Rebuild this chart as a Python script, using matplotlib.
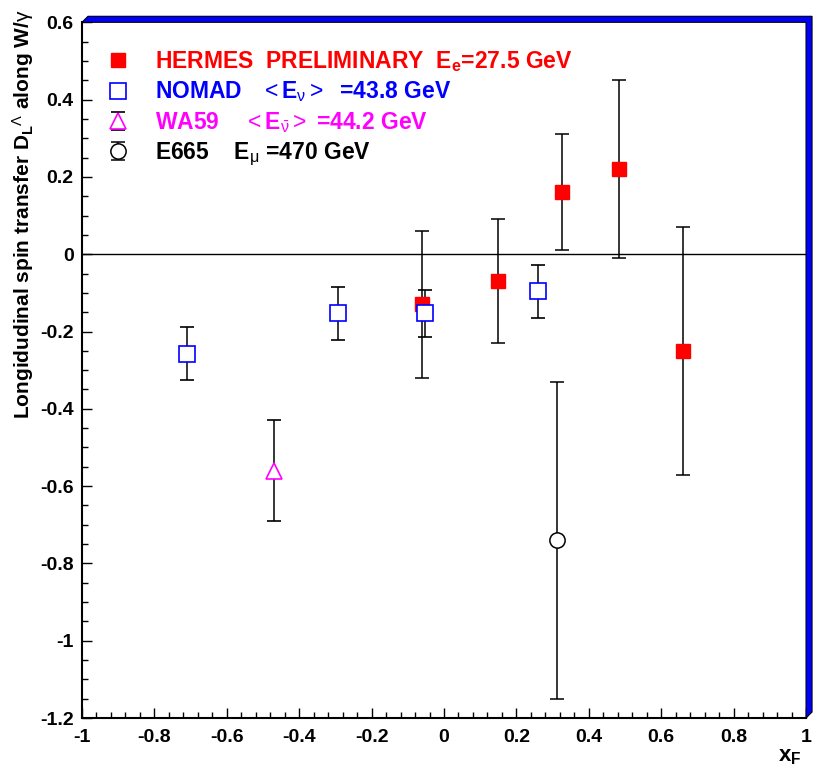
import numpy as np
import matplotlib
matplotlib.use("Agg")
import matplotlib.pyplot as plt
from matplotlib.patches import Polygon
from matplotlib.lines import Line2D
from matplotlib.legend_handler import HandlerErrorbar
from matplotlib.ticker import MultipleLocator, FuncFormatter

plt.rcParams['font.family'] = ['Liberation Sans', 'DejaVu Sans']
plt.rcParams['axes.unicode_minus'] = False
plt.rcParams['mathtext.fontset'] = 'custom'
plt.rcParams['mathtext.rm'] = 'Liberation Sans'
plt.rcParams['mathtext.bf'] = 'Liberation Sans:bold'
plt.rcParams['mathtext.it'] = 'Liberation Sans:italic'

# ---------------------------------
# data: D_L^Lambda vs x_F
hermes_x = [-0.06, 0.15, 0.326, 0.483, 0.66]
hermes_y = [-0.13, -0.07, 0.16, 0.22, -0.25]
hermes_err = [0.19, 0.16, 0.15, 0.23, 0.32]

nomad_x = [-0.71, -0.293, -0.052, 0.26]
nomad_y = [-0.257, -0.153, -0.153, -0.096]
nomad_err = [0.068, 0.068, 0.06, 0.068]

wa59_x = [-0.47]
wa59_y = [-0.56]
wa59_err = [0.13]

e665_x = [0.312]
e665_y = [-0.74]
e665_err = [0.41]

labels = [r"HERMES  PRELIMINARY  E$_{\mathbf{e}}$=27.5 GeV",
          r"NOMAD   $<$E$_{\mathrm{\nu}}$$>$  =43.8 GeV",
          r"WA59    $<$E$_{\bar{\mathrm{\nu}}}$$>$ =44.2 GeV",
          r"E665    E$_{\mathrm{\mu}}$ =470 GeV"]
colors = ["#ff0000", "#0000ff", "#ff00ff", "#000000"]
# ---------------------------------

fig = plt.figure(figsize=(8.15, 7.69), dpi=100)
ax = fig.add_axes([0.1006, 0.0663, 0.8884, 0.9047])

ax.axhline(0, color="black", lw=1.0, zorder=1)

ebkw = dict(ls="none", ecolor="black", elinewidth=1.1, capsize=5, capthick=1.1)
h1 = ax.errorbar(hermes_x, hermes_y, yerr=hermes_err, marker="s", ms=10,
                 mfc="#ff0000", mec="#ff0000", **ebkw)
h2 = ax.errorbar(nomad_x, nomad_y, yerr=nomad_err, marker="s", ms=11,
                 mfc="white", mec="#0000ff", mew=1.2, **ebkw)
h3 = ax.errorbar(wa59_x, wa59_y, yerr=wa59_err, marker="^", ms=12,
                 mfc="white", mec="#ff00ff", mew=1.2, **ebkw)
h4 = ax.errorbar(e665_x, e665_y, yerr=e665_err, marker="o", ms=11,
                 mfc="white", mec="black", mew=1.1, **ebkw)

ax.set_xlim(-1, 1)
ax.set_ylim(-1.2, 0.6)
ax.xaxis.set_major_locator(MultipleLocator(0.2))
ax.xaxis.set_minor_locator(MultipleLocator(0.04))
ax.yaxis.set_major_locator(MultipleLocator(0.2))
ax.yaxis.set_minor_locator(MultipleLocator(0.05))
fmt = FuncFormatter(lambda v, p: "%g" % round(v, 2))
ax.xaxis.set_major_formatter(fmt)
ax.yaxis.set_major_formatter(fmt)
ax.tick_params(which="both", direction="in", top=False, right=False,
               width=1.0, labelsize=14)
ax.tick_params(which="major", length=7, pad=6)
ax.tick_params(axis="x", which="major", pad=8)
ax.tick_params(which="minor", length=4)
for lab in ax.get_xticklabels() + ax.get_yticklabels():
    lab.set_fontweight("bold")

for s in ["left", "bottom"]:
    ax.spines[s].set_linewidth(1.5)
for s in ["top", "right"]:
    ax.spines[s].set_visible(False)

# blue raised frame on top and right
bx, by = 6 / 724, 6 / 696
frame = Polygon([(0, 1), (bx, 1 + by), (1 + bx, 1 + by), (1 + bx, by), (1, 0), (1, 1)],
                closed=True, transform=ax.transAxes, clip_on=False,
                facecolor="#0000ff", edgecolor="black", lw=0.8, zorder=5)
ax.add_patch(frame)

ax.set_ylabel(r"Longidudinal spin transfer D$_{\mathbf{L}}$$^{\Lambda}$ along W/$\mathrm{\gamma}$",
              fontsize=15, fontweight="bold")
ax.yaxis.set_label_coords(-0.064, 0.724)
ax.text(0.978, -0.056, r"x$_{\mathbf{F}}$", transform=ax.transAxes, fontsize=16,
        fontweight="bold", ha="center", va="center")

# legend keys: plain markers for the first two, short bars for the others
k1 = Line2D([], [], ls="none", marker="s", ms=10, mfc="#ff0000", mec="#ff0000")
k2 = Line2D([], [], ls="none", marker="s", ms=11, mfc="white", mec="#0000ff", mew=1.2)
leg = ax.legend([k1, k2, h3, h4], labels, loc="upper left", frameon=False,
                fontsize=16.5, labelcolor=colors, handlelength=1.0,
                handletextpad=1.1, labelspacing=0.24,
                handler_map={h3: HandlerErrorbar(yerr_size=0.4),
                             h4: HandlerErrorbar(yerr_size=0.4)},
                bbox_to_anchor=(0.006, 0.991))
for t in leg.get_texts():
    t.set_fontweight("bold")

fig.savefig("out.png", dpi=100)
